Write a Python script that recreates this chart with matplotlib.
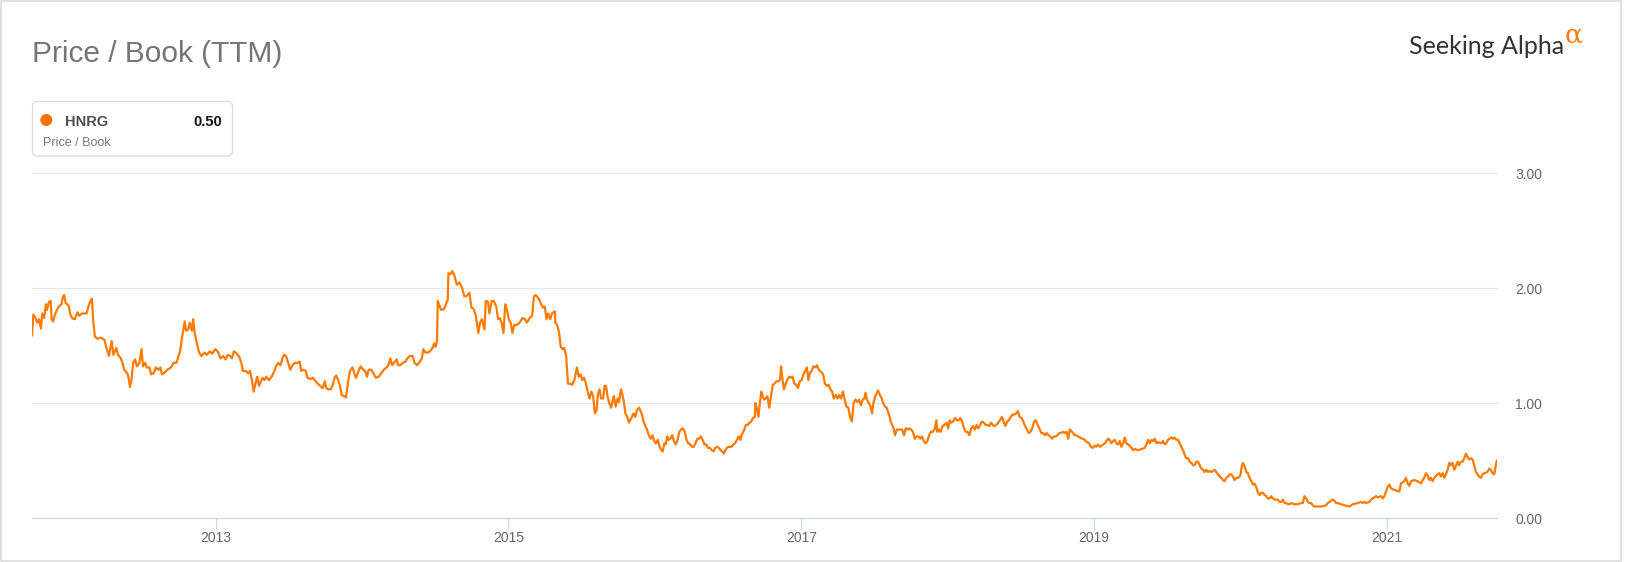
import matplotlib.pyplot as plt
import numpy as np
from matplotlib.patches import FancyBboxPatch, Circle, Rectangle
from matplotlib.transforms import IdentityTransform

W, H = 1625, 562
ORANGE = '#ff7a00'
plt.rcParams['font.family'] = ['Liberation Sans', 'DejaVu Sans']

# Price / Book (TTM) of HNRG: fraction of the year, value
t2011 = [.746, .755, .770, .782, .794, .807, .816, .829, .841, .848, .861, .873, .880, .890, .905, .917,
         .929, .947, .959, .966, .976, .996]
v2011 = [1.59, 1.77, 1.74, 1.70, 1.73, 1.65, 1.78, 1.74, 1.86, 1.81, 1.88, 1.89, 1.73, 1.71, 1.78, 1.81,
         1.84, 1.86, 1.93, 1.94, 1.87, 1.85]

t2012 = [.008, .020, .037, .057, .069, .086, .118, .136, .155, .163, .175, .192, .217, .241, .253, .271,
         .290, .302, .322, .334, .352, .364, .376, .396, .406, .415, .425, .437, .450, .462, .479, .494,
         .504, .518, .531, .548, .560, .577, .592, .609, .622, .634, .646, .671, .695, .712, .732, .757,
         .774, .789, .798, .813, .823, .838, .847, .857, .872, .887, .904, .924, .941, .960, .977, .997]
v2012 = [1.77, 1.74, 1.73, 1.79, 1.76, 1.78, 1.78, 1.86, 1.91, 1.73, 1.58, 1.56, 1.57, 1.55, 1.49, 1.41,
         1.54, 1.42, 1.48, 1.42, 1.39, 1.35, 1.29, 1.26, 1.22, 1.14, 1.20, 1.35, 1.38, 1.32, 1.35, 1.47,
         1.32, 1.35, 1.31, 1.31, 1.25, 1.26, 1.31, 1.29, 1.31, 1.25, 1.26, 1.29, 1.31, 1.35, 1.35, 1.45,
         1.60, 1.71, 1.63, 1.64, 1.70, 1.63, 1.73, 1.61, 1.52, 1.44, 1.41, 1.44, 1.42, 1.45, 1.43, 1.47]

t2013 = [.014, .034, .051, .068, .083, .100, .112, .125, .137, .157, .166, .181, .186, .206, .223, .235,
         .248, .260, .272, .284, .297, .309, .321, .333, .346, .363, .383, .402, .412, .427, .444, .456,
         .468, .481, .493, .510, .525, .542, .559, .574, .584, .598, .616, .628, .648, .665, .682, .697,
         .714, .731, .746, .756, .770, .787, .800, .812, .824, .837, .849, .861, .878, .891, .903, .917,
         .935, .947, .959, .976, .991]
v2013 = [1.45, 1.39, 1.41, 1.38, 1.42, 1.41, 1.39, 1.45, 1.44, 1.41, 1.39, 1.32, 1.28, 1.28, 1.26, 1.28,
         1.20, 1.10, 1.17, 1.23, 1.15, 1.19, 1.22, 1.20, 1.23, 1.20, 1.23, 1.28, 1.32, 1.35, 1.33, 1.39,
         1.42, 1.41, 1.36, 1.29, 1.33, 1.35, 1.35, 1.36, 1.28, 1.29, 1.28, 1.22, 1.21, 1.22, 1.19, 1.17,
         1.15, 1.13, 1.19, 1.13, 1.12, 1.12, 1.16, 1.22, 1.24, 1.20, 1.15, 1.07, 1.06, 1.05, 1.17, 1.28,
         1.31, 1.26, 1.22, 1.28, 1.32]

t2014 = [.008, .021, .033, .045, .065, .082, .094, .114, .131, .148, .168, .180, .193, .205, .217, .237,
         .246, .261, .278, .296, .310, .327, .345, .359, .377, .394, .409, .418, .433, .450, .463, .482,
         .492, .502, .512, .517, .531, .541, .561, .573, .585, .590, .605, .615, .629, .647, .664, .684,
         .698, .713, .733, .747, .762, .777, .794, .806, .818, .836, .845, .860, .870, .885, .899, .917,
         .929, .941, .953, .966, .978, .990]
v2014 = [1.29, 1.28, 1.23, 1.29, 1.29, 1.25, 1.22, 1.23, 1.26, 1.29, 1.31, 1.33, 1.39, 1.33, 1.35, 1.38,
         1.33, 1.33, 1.35, 1.36, 1.39, 1.41, 1.41, 1.35, 1.33, 1.36, 1.39, 1.47, 1.44, 1.44, 1.45, 1.48,
         1.52, 1.49, 1.54, 1.89, 1.84, 1.81, 1.82, 1.86, 1.90, 2.13, 2.12, 2.15, 2.12, 2.03, 2.05, 2.00,
         1.93, 1.93, 1.96, 1.83, 1.82, 1.76, 1.61, 1.70, 1.73, 1.64, 1.89, 1.88, 1.78, 1.89, 1.89, 1.84,
         1.73, 1.74, 1.70, 1.61, 1.86, 1.81]

t2015 = [.002, .015, .027, .039, .057, .076, .096, .113, .125, .145, .162, .174, .187, .199, .211, .223,
         .236, .248, .260, .272, .285, .297, .317, .320, .332, .345, .357, .369, .381, .394, .406, .418,
         .435, .450, .467, .480, .492, .504, .516, .529, .541, .553, .566, .578, .590, .602, .610, .622,
         .632, .647, .656, .666, .676, .688, .701, .713, .720, .732, .745, .755, .769, .779, .789, .799,
         .811, .823, .831, .843, .855, .867, .877, .892, .909, .921, .934, .946, .958, .971, .983, .995]
v2015 = [1.73, 1.70, 1.61, 1.68, 1.68, 1.70, 1.74, 1.73, 1.70, 1.74, 1.76, 1.93, 1.94, 1.92, 1.90, 1.86,
         1.83, 1.84, 1.73, 1.78, 1.73, 1.78, 1.80, 1.70, 1.68, 1.62, 1.49, 1.47, 1.48, 1.41, 1.17, 1.17,
         1.16, 1.20, 1.31, 1.23, 1.25, 1.20, 1.22, 1.17, 1.10, 1.04, 1.10, 1.06, 0.91, 0.94, 1.07, 1.12,
         1.04, 1.04, 1.15, 1.15, 1.06, 1.00, 0.96, 1.03, 1.06, 0.97, 1.04, 1.01, 1.12, 1.07, 1.00, 0.91,
         0.88, 0.83, 0.85, 0.88, 0.91, 0.88, 0.94, 0.96, 0.91, 0.85, 0.80, 0.77, 0.72, 0.69, 0.72, 0.67]

t2016 = [.007, .020, .032, .044, .054, .064, .074, .084, .093, .106, .118, .130, .142, .155, .167, .179,
         .191, .204, .216, .228, .241, .253, .265, .277, .290, .302, .314, .326, .339, .351, .363, .376,
         .388, .400, .412, .425, .437, .449, .461, .471, .481, .491, .506, .523, .535, .547, .560, .572,
         .584, .592, .604, .614, .621, .633, .646, .658, .670, .682, .687, .695, .707, .714, .727, .736,
         .746, .756, .768, .781, .793, .805, .817, .830, .842, .854, .862, .869, .881, .891, .903, .918,
         .928, .940, .952, .965, .977, .989]
v2016 = [0.65, 0.68, 0.62, 0.59, 0.58, 0.65, 0.64, 0.71, 0.68, 0.69, 0.72, 0.67, 0.64, 0.68, 0.75, 0.77,
         0.78, 0.75, 0.68, 0.65, 0.64, 0.62, 0.62, 0.65, 0.69, 0.69, 0.71, 0.68, 0.64, 0.64, 0.61, 0.61,
         0.59, 0.58, 0.61, 0.62, 0.61, 0.59, 0.58, 0.56, 0.59, 0.61, 0.62, 0.62, 0.64, 0.65, 0.68, 0.71,
         0.68, 0.72, 0.75, 0.78, 0.81, 0.81, 0.83, 0.84, 0.87, 0.88, 1.00, 0.96, 0.88, 0.97, 1.10, 1.06,
         1.03, 1.04, 1.06, 0.96, 1.06, 1.16, 1.17, 1.19, 1.19, 1.20, 1.32, 1.23, 1.12, 1.16, 1.20, 1.23,
         1.22, 1.23, 1.17, 1.16, 1.13, 1.19]

t2017 = [.002, .014, .026, .038, .048, .058, .070, .082, .095, .107, .119, .136, .149, .161, .173, .186,
         .198, .210, .222, .235, .247, .259, .271, .284, .296, .308, .321, .333, .345, .357, .370, .382,
         .394, .406, .419, .431, .438, .448, .461, .473, .483, .492, .505, .517, .524, .537, .549, .559,
         .571, .583, .591, .603, .610, .620, .630, .640, .652, .664, .676, .689, .701, .713, .726, .738,
         .750, .762, .775, .787, .799, .811, .824, .836, .848, .861, .873, .885, .897, .910, .922, .929,
         .939, .951, .964, .978, .991]
v2017 = [1.20, 1.25, 1.28, 1.31, 1.20, 1.26, 1.28, 1.32, 1.31, 1.33, 1.29, 1.27, 1.25, 1.17, 1.15, 1.16,
         1.12, 1.10, 1.04, 1.07, 1.04, 1.07, 1.04, 1.10, 1.03, 0.97, 0.96, 0.88, 0.84, 1.00, 1.03, 1.01,
         1.03, 0.98, 1.03, 1.04, 1.09, 1.03, 1.00, 0.97, 0.91, 1.00, 1.06, 1.09, 1.11, 1.07, 1.04, 1.00,
         0.97, 0.96, 0.93, 0.88, 0.84, 0.81, 0.78, 0.72, 0.77, 0.77, 0.77, 0.77, 0.72, 0.78, 0.77, 0.78,
         0.77, 0.75, 0.69, 0.71, 0.71, 0.69, 0.71, 0.67, 0.65, 0.67, 0.72, 0.75, 0.75, 0.77, 0.85, 0.75,
         0.77, 0.75, 0.80, 0.81, 0.83]

t2018 = [.003, .013, .025, .037, .050, .062, .074, .086, .099, .111, .123, .135, .148, .160, .172, .185,
         .197, .209, .221, .234, .246, .258, .270, .283, .295, .307, .320, .332, .344, .356, .369, .381,
         .393, .406, .418, .430, .442, .455, .467, .479, .491, .504, .516, .528, .541, .553, .565, .577,
         .590, .602, .614, .626, .639, .651, .663, .676, .688, .700, .712, .725, .737, .749, .761, .774,
         .786, .798, .811, .823, .833, .842, .855, .867, .879, .891, .904, .916, .928, .941, .953, .965,
         .977, .990]
v2018 = [0.78, 0.85, 0.83, 0.84, 0.87, 0.85, 0.85, 0.87, 0.84, 0.78, 0.75, 0.75, 0.72, 0.78, 0.80, 0.77,
         0.81, 0.78, 0.81, 0.84, 0.83, 0.81, 0.81, 0.80, 0.83, 0.81, 0.80, 0.81, 0.83, 0.85, 0.88, 0.84,
         0.80, 0.84, 0.85, 0.88, 0.90, 0.90, 0.91, 0.93, 0.88, 0.87, 0.84, 0.80, 0.77, 0.74, 0.75, 0.78,
         0.84, 0.85, 0.81, 0.78, 0.74, 0.74, 0.72, 0.74, 0.72, 0.71, 0.69, 0.71, 0.71, 0.72, 0.74, 0.74,
         0.75, 0.74, 0.75, 0.69, 0.77, 0.76, 0.74, 0.72, 0.72, 0.71, 0.70, 0.69, 0.69, 0.67, 0.66, 0.65,
         0.62, 0.61]

t2019 = [.002, .014, .026, .039, .073, .095, .107, .118, .130, .141, .152, .164, .175, .186, .198, .209,
         .220, .232, .243, .254, .266, .277, .300, .323, .345, .357, .368, .380, .391, .402, .414, .425,
         .436, .459, .470, .482, .493, .504, .516, .527, .539, .550, .561, .573, .584, .595, .607, .618,
         .629, .641, .652, .664, .675, .686, .698, .709, .720, .732, .743, .754, .766, .777, .789, .800,
         .811, .823, .834, .845, .857, .868, .879, .891, .902, .914, .925, .936, .948, .959, .970, .982,
         .993]
v2019 = [0.63, 0.62, 0.64, 0.62, 0.65, 0.69, 0.68, 0.65, 0.67, 0.68, 0.65, 0.64, 0.67, 0.62, 0.65, 0.70,
         0.65, 0.64, 0.63, 0.61, 0.59, 0.60, 0.59, 0.60, 0.61, 0.64, 0.68, 0.65, 0.68, 0.67, 0.69, 0.65,
         0.66, 0.65, 0.67, 0.64, 0.65, 0.68, 0.69, 0.70, 0.69, 0.70, 0.68, 0.68, 0.65, 0.62, 0.59, 0.55,
         0.52, 0.52, 0.49, 0.48, 0.46, 0.46, 0.49, 0.49, 0.46, 0.43, 0.42, 0.40, 0.42, 0.40, 0.41, 0.40,
         0.41, 0.42, 0.40, 0.38, 0.36, 0.35, 0.33, 0.32, 0.35, 0.36, 0.38, 0.38, 0.36, 0.33, 0.35, 0.35,
         0.36]

t2020 = [.000, .009, .016, .027, .039, .050, .061, .073, .084, .095, .107, .118, .130, .141, .152, .164,
         .175, .186, .198, .209, .220, .232, .243, .254, .266, .277, .289, .300, .311, .323, .334, .345,
         .368, .391, .414, .425, .436, .448, .459, .470, .482, .493, .504, .550, .584, .595, .607, .618,
         .629, .641, .652, .664, .686, .709, .743, .766, .800, .823, .834, .845, .857, .879, .891, .902,
         .925, .936, .959, .970, .982, .993]
v2020 = [0.38, 0.46, 0.48, 0.45, 0.40, 0.39, 0.35, 0.32, 0.29, 0.30, 0.27, 0.22, 0.20, 0.22, 0.22, 0.20,
         0.19, 0.17, 0.17, 0.19, 0.17, 0.16, 0.16, 0.16, 0.14, 0.14, 0.16, 0.13, 0.13, 0.12, 0.12, 0.13,
         0.12, 0.12, 0.13, 0.13, 0.19, 0.17, 0.14, 0.13, 0.13, 0.11, 0.10, 0.10, 0.11, 0.13, 0.14, 0.15,
         0.16, 0.15, 0.13, 0.13, 0.12, 0.11, 0.10, 0.12, 0.13, 0.14, 0.13, 0.14, 0.13, 0.14, 0.16, 0.17,
         0.19, 0.18, 0.19, 0.17, 0.19, 0.23]

t2021 = [.004, .016, .027, .039, .061, .084, .095, .118, .129, .141, .152, .164, .186, .209, .232, .243,
         .254, .266, .277, .289, .300, .311, .323, .345, .357, .368, .380, .391, .402, .414, .425, .436,
         .448, .459, .470, .482, .493, .504, .516, .527, .539, .550, .561, .573, .584, .595, .607, .618,
         .629, .641, .652, .664, .686, .698, .709, .720, .732, .743, .750]
v2021 = [0.27, 0.29, 0.26, 0.25, 0.24, 0.23, 0.30, 0.32, 0.35, 0.30, 0.28, 0.32, 0.33, 0.32, 0.30, 0.33,
         0.35, 0.39, 0.37, 0.33, 0.35, 0.32, 0.35, 0.38, 0.39, 0.36, 0.39, 0.35, 0.38, 0.42, 0.48, 0.46,
         0.48, 0.42, 0.45, 0.49, 0.46, 0.49, 0.49, 0.52, 0.56, 0.53, 0.51, 0.52, 0.51, 0.46, 0.40, 0.38,
         0.36, 0.35, 0.38, 0.39, 0.40, 0.43, 0.42, 0.39, 0.38, 0.46, 0.50]

years = [2011, 2012, 2013, 2014, 2015, 2016, 2017, 2018, 2019, 2020, 2021]
fracs = [t2011, t2012, t2013, t2014, t2015, t2016, t2017, t2018, t2019, t2020, t2021]
vals = [v2011, v2012, v2013, v2014, v2015, v2016, v2017, v2018, v2019, v2020, v2021]

x_ticks = [2013, 2015, 2017, 2019, 2021]
y_ticks = [0, 1, 2, 3]
ticker = 'HNRG'
last_value = '0.50'

x = np.concatenate([yr + np.asarray(f) for yr, f in zip(years, fracs)])
y = np.concatenate([np.asarray(v) for v in vals])


def fx(px):
    return px / W


def fy(px):
    return 1 - px / H


fig = plt.figure(figsize=(W / 100, H / 100), dpi=100)
ax = fig.add_axes([fx(32), fy(518), fx(1497) - fx(32), fy(173.3) - fy(518)])
ax.set_xlim(2011.746, 2021.751)
ax.set_ylim(0, 3)

for v in y_ticks[1:]:
    ax.axhline(v, color='#e6e6e6', lw=0.8, clip_on=False, zorder=0)
for s in ['top', 'left', 'right']:
    ax.spines[s].set_visible(False)
ax.spines['bottom'].set_color('#ccd6eb')
ax.spines['bottom'].set_linewidth(0.9)

ax.plot(x, y, color=ORANGE, lw=1.6, solid_joinstyle='round', zorder=3)

ax.set_xticks(x_ticks)
ax.set_xticklabels([str(t) for t in x_ticks])
ax.tick_params(axis='x', length=8.6, width=0.8, color='#ccd6eb', pad=0.5,
               labelsize=10, labelcolor='#666666')
ax.yaxis.tick_right()
ax.set_yticks(y_ticks)
ax.set_yticklabels(['%.2f' % v for v in y_ticks])
ax.tick_params(axis='y', length=0, pad=13, labelsize=10, labelcolor='#666666')

# title
fig.text(fx(32), fy(62), 'Price / Book (TTM)', fontsize=21.5, color='#757575', va='baseline')

# legend box
ident = IdentityTransform()
fig.add_artist(FancyBboxPatch((32.5, H - 156), 200, 54.5,
                              boxstyle='round,pad=0,rounding_size=5',
                              fc='white', ec='#d9d9d9', lw=0.9, transform=ident))
fig.add_artist(Circle((46.3, H - 120), 6, fc='#ff6f00', ec='none', transform=ident))
fig.text(fx(65.5), fy(125.5), ticker, fontsize=10.5, fontweight='bold', color='#4d4d4d', va='baseline')
fig.text(fx(222), fy(125.5), last_value, fontsize=10.5, fontweight='bold', color='#111111',
         va='baseline', ha='right')
fig.text(fx(43), fy(145.5), 'Price / Book', fontsize=9, color='#777777', va='baseline')

# logo
fig.text(fx(1564), fy(53.5), 'Seeking Alpha', fontsize=18, color='#333333', va='baseline', ha='right',
         family=['Lato', 'DejaVu Sans'])
fig.text(fx(1565), fy(42.5), '\u03b1', fontsize=19, color=ORANGE, va='baseline', ha='left',
         family=['DejaVu Serif'])

# outer frame
fig.add_artist(Rectangle((1, 1), 1620, H - 2, fc='none', ec='#dcdcdc', lw=1.2, transform=ident))

fig.savefig('out.png', dpi=100)
